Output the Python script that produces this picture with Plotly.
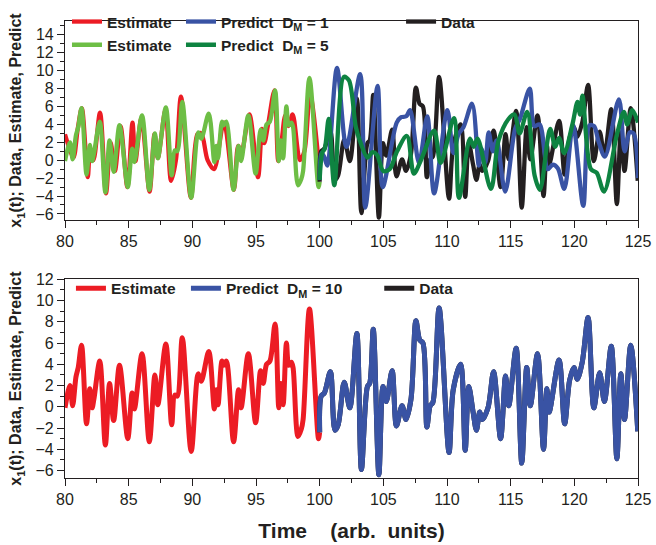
import plotly.graph_objects as go

# ---- data ----
# Estimate (D_M = 5 top, D_M = 10 bottom), 80..100
t_est = [80.0, 80.39, 80.6, 80.86, 81.04, 81.3, 81.69, 81.95, 82.13, 82.28, 82.73, 83.17, 83.5, 83.82,
         84.28, 84.93, 85.27, 85.45, 86.05, 86.62, 87.06, 87.29, 87.92, 88.38, 88.62, 88.82, 89.21,
         89.91, 90.46, 90.7, 91.29, 91.73, 91.89, 92.02, 92.33, 92.46, 92.67, 93.24, 93.63, 93.83,
         94.4, 94.97, 95.36, 95.57, 95.83, 96.09, 96.5, 96.79, 96.95, 97.13, 97.39, 97.57, 97.78,
         97.91, 98.3, 98.56, 98.7, 99.2, 99.91, 100.0]
v_est = [-0.1, 2.0, 0.1, 2.8, 3.7, 5.8, -1.6, 1.7, -0.1, 0.8, 4.3, -3.6, 2.2, -1.3,
         3.9, -3.0, 1.3, -0.2, 5.0, -3.3, 3.0, 0.2, 5.9, -1.7, 1.1, 1.0, 6.5,
         -4.2, 3.1, 2.4, 5.2, -0.2, 1.6, 0.2, 4.3, 3.9, 4.3, -3.3, 1.6, -0.1,
         5.0, -1.5, 3.4, 2.2, 4.0, 4.3, 7.8, -0.1, 2.2, 0.2, 6.0, 3.9, 4.2,
         3.7, -2.8, -2.1, -1.2, 9.2, -3.0, -2.4]

# Estimate D_M = 1 (top), 80..100
t_est1 = [80.0, 80.42, 80.67, 81.0, 81.32, 81.79, 81.97, 82.23, 82.75, 83.22, 83.58, 83.92, 84.36,
          84.9, 85.3, 85.53, 86.0, 86.64, 87.03, 87.29, 87.89, 88.33, 88.72, 89.11, 89.89, 90.4,
          90.7, 91.2, 91.7, 92.48, 93.26, 93.6, 93.85, 94.48, 95.16, 95.47, 95.65, 95.95, 96.45,
          96.75, 97.0, 97.3, 97.55, 97.88, 98.45, 98.8, 99.25, 100.0]
v_est1 = [2.9, 1.0, 0.3, 3.5, 5.8, -1.9, 1.0, 0.0, 5.3, -3.7, 2.0, -1.2, 3.8,
          -3.0, 4.2, -0.1, 4.7, -3.5, 2.9, 0.25, 5.6, -2.3, 0.1, 7.1, -4.2, 2.9,
          3.0, 0.0, -1.0, 4.2, -3.3, 1.6, 0.8, 5.1, -1.9, 3.5, 1.9, 4.0, 7.8,
          -0.1, 2.0, 5.0, 3.8, 5.1, 0.0, 1.0, 7.3, -1.5]

# Data, 100..125 (identical to Predict D_M = 10)
t_data = [100.0, 100.12, 100.37, 100.84, 101.2, 101.45, 101.93, 102.37, 102.92, 103.28, 103.75,
          103.93, 104.21, 104.65, 104.97, 105.23, 105.69, 106.03, 106.47, 106.78, 107.17, 107.56,
          107.85, 108.11, 108.42, 108.68, 108.89, 109.38, 110.16, 110.49, 111.07, 111.43, 111.71,
          112.05, 112.31, 112.57, 112.78, 113.22, 113.66, 114.21, 114.6, 114.85, 115.43, 115.87,
          116.26, 116.54, 117.11, 117.58, 117.84, 118.02, 118.8, 119.24, 119.63, 119.97, 120.23,
          120.62, 121.08, 121.53, 121.99, 122.36, 122.9, 123.34, 123.65, 123.94, 124.43, 124.98]
v_data = [-2.4, 1.0, 1.3, 3.3, -2.2, -1.7, 2.3, -0.1, 6.9, -5.9, 1.9,
          2.2, 7.3, -6.4, 1.9, 0.5, 3.4, -1.8, 0.1, -1.2, 0.7, 8.1,
          6.3, 6.0, -1.9, 0.1, 0.4, 9.3, -4.3, 1.6, 4.0, -4.1, 1.9,
          -0.5, -2.2, -0.5, -1.2, -0.1, 3.3, -3.0, 2.9, 0.1, 5.5, -5.3,
          3.7, 0.1, 5.0, -4.0, 1.7, -0.5, 4.4, -1.6, 2.5, 3.7, 2.6,
          4.2, 8.4, -0.1, 3.2, 0.5, 5.7, -4.9, 3.1, -1.2, 5.8, -2.3]

# Predict D_M = 1 (top), 100..125
t_pred1 = [100.0, 100.15, 100.35, 100.6, 101.36, 102.1, 103.18, 103.58, 104.55, 104.95, 106.05,
           106.4, 106.8, 107.1, 107.8, 108.45, 108.99, 110.03, 110.5, 110.9, 111.3, 111.97,
           112.5, 112.7, 113.0, 113.27, 113.6, 113.9, 114.57, 115.35, 115.75, 116.5, 116.85,
           117.27, 117.92, 118.3, 118.7, 119.21, 119.9, 120.7, 121.2, 121.55, 121.9, 122.4,
           123.5, 123.95, 124.35, 124.65, 125.0]
v_pred1 = [-2.2, 0.8, 0.4, -0.6, 10.3, 1.5, 9.6, -5.3, 8.3, -3.0, 4.2,
           4.8, 4.9, 5.6, -0.3, 4.9, -3.7, 5.6, 0.8, 2.9, 3.7, 6.3,
           -0.6, 1.3, -0.3, 3.1, 1.0, 2.2, -3.5, 3.5, 4.7, 8.0, 3.8,
           4.0, -1.0, -0.5, -0.9, -3.2, 3.9, -5.1, 3.9, 3.8, 2.1, 0.4,
           6.8, 1.0, 3.1, 3.0, -2.0]

# Predict D_M = 5 (top), 100..125
t_pred5 = [100.0, 100.2, 100.4, 100.71, 101.15, 101.9, 102.3, 102.84, 103.2, 103.75, 104.15,
           104.5, 105.0, 105.5, 106.08, 106.85, 107.4, 107.95, 108.99, 109.5, 110.55, 110.94,
           111.8, 112.1, 112.4, 113.45, 114.05, 114.83, 115.3, 115.7, 116.3, 116.88, 117.3,
           118.1, 118.5, 118.8, 119.2, 119.85, 120.25, 120.45, 120.64, 121.3, 121.75, 122.33,
           123.35, 123.89, 124.15, 124.55, 125.0]
v_pred5 = [-2.2, 0.8, 1.3, 4.6, -2.8, 9.3, 8.9, 3.7, 2.0, 0.3, 0.9,
           0.6, -1.2, -1.0, 1.0, 2.7, -1.5, 0.0, 3.3, -0.3, 4.7, -4.2,
           2.4, 1.5, 2.4, -3.2, 2.2, 4.6, 5.1, 3.0, 5.4, -1.7, -3.3,
           3.5, 1.5, 2.5, 0.8, 4.0, 6.5, 5.1, 7.2, -1.0, -1.4, -3.5,
           2.9, 5.4, 4.0, 5.6, 4.2]

x_ticks = [80, 85, 90, 95, 100, 105, 110, 115, 120, 125]

# ---- styling ----
RED = "#EC1C24"
BLUE = "#3953A4"
LGREEN = "#6DBE45"
DGREEN = "#0E8341"
BLACK = "#231F20"
FONT = "Liberation Sans, Arial, sans-serif"

fig = go.Figure()

def add(t, v, color, name, xa, ya, legend, width):
    fig.add_trace(go.Scatter(x=t, y=v, mode="lines", name=name,
                             line=dict(color=color, width=width, shape="spline", smoothing=0.9),
                             xaxis=xa, yaxis=ya, legend=legend))

sub = "Predict\u00a0\u00a0D<sub>M</sub> = "
# top panel
add(t_est1, v_est1, RED, "Estimate", "x", "y", "legend", 4.3)
add(t_est, v_est, LGREEN, "Estimate", "x", "y", "legend3", 4.3)
add(t_data, v_data, BLACK, "Data", "x", "y", "legend5", 4.3)
add(t_pred1, v_pred1, BLUE, sub + "1", "x", "y", "legend2", 4.3)
add(t_pred5, v_pred5, DGREEN, sub + "5", "x", "y", "legend4", 4.3)
# bottom panel
add(t_est, v_est, RED, "Estimate", "x2", "y2", "legend6", 5)
add(t_data, v_data, BLACK, "Data", "x2", "y2", "legend8", 5)
add(t_data, v_data, BLUE, sub + "10", "x2", "y2", "legend7", 5)

L, R, T, B = 65, 13, 5, 67
W, H = 656, 545
PH = H - T - B
PW = W - L - R

def py(p):
    return (H - B - p) / PH

def px(p):
    return (p - L) / PW

top_dom = [py(211), 1.0]
bot_dom = [0.0, py(272.3)]

axis_common = dict(showline=True, linecolor=BLACK, linewidth=1.2, mirror=True,
                   ticks="outside", ticklen=7, tickwidth=1.2, tickcolor=BLACK,
                   showgrid=False, zeroline=False, ticklabeloverflow="allow",
                   tickfont=dict(family=FONT, size=16, color=BLACK))

xcommon = dict(axis_common, range=[80, 125], tickvals=x_ticks,
               minor=dict(dtick=2.5, tick0=80, ticks="outside", ticklen=4, tickwidth=1.2, tickcolor=BLACK))
ycommon = dict(axis_common, dtick=2, tick0=0,
               minor=dict(dtick=1, tick0=0, ticks="outside", ticklen=4, tickwidth=1.2, tickcolor=BLACK))

ytitle = dict(text="<b>x<sub>1</sub>(t); Data, Estimate, Predict</b>",
              font=dict(family=FONT, size=16, color=BLACK), standoff=9)

leg_font = dict(family=FONT, size=15.5, color=BLACK, weight="bold")

def leg(cx, cy, dy):
    return dict(x=px(cx - 21), y=py(cy - dy), xanchor="left", yanchor="middle",
                bgcolor="rgba(0,0,0,0)", borderwidth=0, font=leg_font,
                orientation="v", tracegroupgap=0)

fig.update_layout(
    width=W, height=H,
    margin=dict(l=L, r=R, t=T, b=B),
    paper_bgcolor="white", plot_bgcolor="white",
    showlegend=True,
    xaxis=dict(xcommon, anchor="y", domain=[0, 1]),
    yaxis=dict(ycommon, anchor="x", domain=top_dom, range=[-6.68, 15.54], title=ytitle),
    xaxis2=dict(xcommon, anchor="y2", domain=[0, 1],
                title=dict(text="<b>Time\u00a0\u00a0\u00a0\u00a0(arb.\u00a0\u00a0units)</b>",
                           font=dict(family=FONT, size=21, color=BLACK), standoff=16)),
    yaxis2=dict(ycommon, anchor="x2", domain=bot_dom, range=[-6.7, 12.0], title=ytitle),
    legend=leg(88, 16, 10),
    legend2=leg(203, 16, 10),
    legend5=leg(425, 16, 10),
    legend3=leg(88, 43, 13),
    legend4=leg(203, 43, 13),
    legend6=leg(92, 286, 4),
    legend7=leg(208, 286, 4),
    legend8=leg(403, 286, 4),
)

fig.write_html("out.html")
